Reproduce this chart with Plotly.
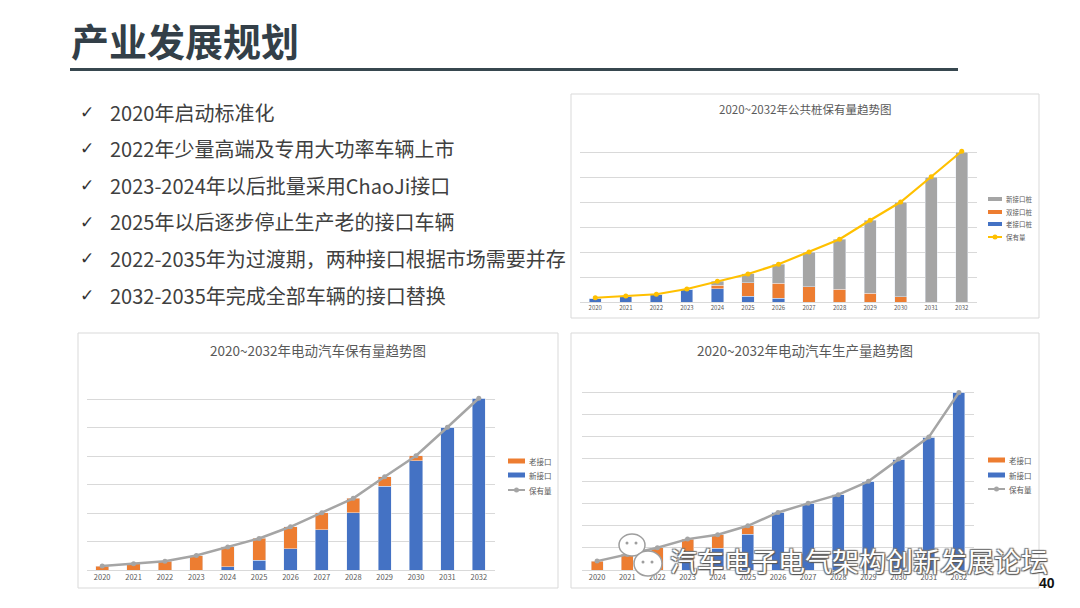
import plotly.graph_objects as go

W, H = 1080, 608
def X(px): return px / W
def Y(py): return 1 - py / H

years = [str(y) for y in range(2020, 2033)]

# Chart 1: public chargers stock
pile_old = [0.16, 0.24, 0.31, 0.52, 0.53, 0.23, 0.16, 0, 0, 0, 0, 0, 0]
pile_dual = [0, 0, 0, 0, 0.14, 0.55, 0.60, 0.61, 0.52, 0.35, 0.21, 0, 0]
pile_new = [0, 0, 0, 0, 0.16, 0.35, 0.75, 1.39, 1.99, 2.92, 3.79, 5.00, 6.00]
pile_total = [0.17, 0.24, 0.31, 0.52, 0.83, 1.12, 1.51, 2.00, 2.51, 3.27, 4.00, 5.01, 6.03]
pile_names = ["新接口桩", "双接口桩", "老接口桩", "保有量"]

# Chart 2: EV stock
stock_new = [0, 0, 0, 0, 0.12, 0.34, 0.75, 1.41, 2.01, 2.94, 3.84, 5.02, 6.04]
stock_old = [0.14, 0.22, 0.31, 0.51, 0.69, 0.77, 0.77, 0.60, 0.51, 0.34, 0.18, 0, 0]
stock_total = [0.14, 0.22, 0.31, 0.51, 0.81, 1.11, 1.52, 2.01, 2.52, 3.28, 4.02, 5.02, 6.04]

# Chart 3: EV production
prod_new = [0, 0, 0, 0.45, 0.97, 1.60, 2.59, 3.00, 3.39, 3.99, 4.99, 5.98, 7.99]
prod_old = [0.40, 0.70, 1.00, 0.94, 0.62, 0.39, 0, 0, 0, 0, 0, 0, 0]
prod_total = [0.40, 0.70, 1.00, 1.39, 1.59, 1.99, 2.59, 3.00, 3.39, 3.99, 4.99, 5.98, 7.99]
ev_names = ["老接口", "新接口", "保有量"]

titles = ["2020~2032年公共桩保有量趋势图", "2020~2032年电动汽车保有量趋势图", "2020~2032年电动汽车生产量趋势图"]
bullets = [
    "2020年启动标准化",
    "2022年少量高端及专用大功率车辆上市",
    "2023-2024年以后批量采用ChaoJi接口",
    "2025年以后逐步停止生产老的接口车辆",
    "2022-2035年为过渡期，两种接口根据市场需要并存",
    "2032-2035年完成全部车辆的接口替换",
]

BLUE, ORANGE, GRAY, YELLOW, LGRAY = "#4472C4", "#ED7D31", "#A5A5A5", "#FFC000", "#A5A5A5"
FONT = "Noto Sans CJK SC"
TXT = "#595959"

fig = go.Figure()
BW = 0.4
# chart 1
fig.add_trace(go.Bar(x=years, y=pile_old, name=pile_names[2], marker_color=BLUE, width=BW, xaxis="x", yaxis="y"))
fig.add_trace(go.Bar(x=years, y=pile_dual, name=pile_names[1], marker_color=ORANGE, width=BW, xaxis="x", yaxis="y"))
fig.add_trace(go.Bar(x=years, y=pile_new, name=pile_names[0], marker_color=GRAY, width=BW, xaxis="x", yaxis="y"))
fig.add_trace(go.Scatter(x=years, y=pile_total, name=pile_names[3], mode="lines+markers",
                         line=dict(color=YELLOW, width=2.2), marker=dict(size=5, color=YELLOW), xaxis="x", yaxis="y"))
# chart 2
fig.add_trace(go.Bar(x=years, y=stock_new, name=ev_names[1], marker_color=BLUE, width=0.42, xaxis="x2", yaxis="y2"))
fig.add_trace(go.Bar(x=years, y=stock_old, name=ev_names[0], marker_color=ORANGE, width=0.42, xaxis="x2", yaxis="y2"))
fig.add_trace(go.Scatter(x=years, y=stock_total, name=ev_names[2], mode="lines+markers",
                         line=dict(color=LGRAY, width=2.5), marker=dict(size=5, color=LGRAY), xaxis="x2", yaxis="y2"))
# chart 3
fig.add_trace(go.Bar(x=years, y=prod_new, name=ev_names[1], marker_color=BLUE, width=BW, xaxis="x3", yaxis="y3"))
fig.add_trace(go.Bar(x=years, y=prod_old, name=ev_names[0], marker_color=ORANGE, width=BW, xaxis="x3", yaxis="y3"))
fig.add_trace(go.Scatter(x=years, y=prod_total, name=ev_names[2], mode="lines+markers",
                         line=dict(color=LGRAY, width=2.5), marker=dict(size=5, color=LGRAY), xaxis="x3", yaxis="y3"))

def xax(x0, x1, anchor, fs):
    return dict(domain=[X(x0), X(x1)], anchor=anchor, type="category", range=[-0.5, 12.5],
                showgrid=False, showline=True, linecolor="#D9D9D9", linewidth=1, ticks="",
                tickfont=dict(family=FONT, size=fs, color=TXT), fixedrange=True)

def yax(ybase, ytop, anchor, top):
    return dict(domain=[Y(ybase), Y(ytop)], anchor=anchor, range=[0, top], dtick=1,
                showticklabels=False, showgrid=True, gridcolor="#D9D9D9", gridwidth=1,
                zeroline=False, showline=False, ticks="", fixedrange=True)

shapes = []
annotations = []

# frames
for (x0, y0, x1, y1) in [(571, 94, 1039, 318), (78, 333, 558, 588), (571, 333, 1039, 588)]:
    shapes.append(dict(type="rect", xref="paper", yref="paper", x0=X(x0), x1=X(x1), y0=Y(y1), y1=Y(y0),
                       line=dict(color="#D9D9D9", width=1), fillcolor="white", layer="below"))

# slide title and rule
annotations.append(dict(text="<b>产业发展规划</b>", x=X(69), y=Y(40), xref="paper", yref="paper",
                        xanchor="left", yanchor="middle", showarrow=False,
                        font=dict(family=FONT, size=38, color="#333F48")))
shapes.append(dict(type="line", xref="paper", yref="paper", x0=X(70), x1=X(958), y0=Y(69.5), y1=Y(69.5),
                   line=dict(color="#37474F", width=3)))

# bullets
rows = [112, 148, 185, 222, 258, 295]
for r, t in zip(rows, bullets):
    annotations.append(dict(text="<b>✓</b>", x=X(87), y=Y(r), xref="paper", yref="paper", xanchor="center",
                            yanchor="middle", showarrow=False, font=dict(family="DejaVu Sans", size=17, color="#333333")))
    annotations.append(dict(text=t, x=X(108), y=Y(r), xref="paper", yref="paper", xanchor="left",
                            yanchor="middle", showarrow=False, font=dict(family=FONT, size=20, color="#404040")))

# chart titles
for (cx, cy, fs), t in zip([(805, 109, 11.5), (318, 350, 13.5), (805, 350, 13.5)], titles):
    annotations.append(dict(text=t, x=X(cx), y=Y(cy), xref="paper", yref="paper", xanchor="center",
                            yanchor="middle", showarrow=False, font=dict(family=FONT, size=fs, color=TXT)))

# manual legends
def legend(entries, sx0, sx1, tx, fs, sh):
    for (name, color, kind), ry in entries:
        if kind == "bar":
            shapes.append(dict(type="rect", xref="paper", yref="paper", x0=X(sx0), x1=X(sx1),
                               y0=Y(ry + sh / 2), y1=Y(ry - sh / 2), fillcolor=color, line=dict(width=0)))
        else:
            shapes.append(dict(type="line", xref="paper", yref="paper", x0=X(sx0), x1=X(sx1),
                               y0=Y(ry), y1=Y(ry), line=dict(color=color, width=2)))
            cx = (sx0 + sx1) / 2
            shapes.append(dict(type="circle", xref="paper", yref="paper", x0=X(cx - 2.5), x1=X(cx + 2.5),
                               y0=Y(ry + 2.5), y1=Y(ry - 2.5), fillcolor=color, line=dict(width=0)))
        annotations.append(dict(text=name, x=X(tx), y=Y(ry), xref="paper", yref="paper", xanchor="left",
                                yanchor="middle", showarrow=False, font=dict(family=FONT, size=fs, color=TXT)))

legend([((pile_names[0], GRAY, "bar"), 199), ((pile_names[1], ORANGE, "bar"), 212),
        ((pile_names[2], BLUE, "bar"), 224), ((pile_names[3], YELLOW, "line"), 237)],
       988, 1002, 1004, 6.5, 4)
legend([((ev_names[0], ORANGE, "bar"), 461), ((ev_names[1], BLUE, "bar"), 475), ((ev_names[2], LGRAY, "line"), 490)],
       508, 525, 527, 7.5, 5)
legend([((ev_names[0], ORANGE, "bar"), 460), ((ev_names[1], BLUE, "bar"), 475), ((ev_names[2], LGRAY, "line"), 489)],
       988, 1005, 1007, 7.5, 5)

# watermark icon
shapes.append(dict(type="circle", xref="paper", yref="paper", x0=X(619), x1=X(645), y0=Y(556), y1=Y(534),
                   fillcolor="white", line=dict(color="#9E9E9E", width=1.5)))
shapes.append(dict(type="circle", xref="paper", yref="paper", x0=X(634), x1=X(662), y0=Y(576), y1=Y(551),
                   fillcolor="white", line=dict(color="#9E9E9E", width=1.5)))
for (dx, dy) in [(627, 543), (636, 543), (643, 562), (652, 562)]:
    shapes.append(dict(type="circle", xref="paper", yref="paper", x0=X(dx - 1.5), x1=X(dx + 1.5),
                       y0=Y(dy + 1.5), y1=Y(dy - 1.5), fillcolor="#9E9E9E", line=dict(width=0)))
annotations.append(dict(text="汽车电子电气架构创新发展论坛", x=X(668), y=Y(560), xref="paper", yref="paper",
                        xanchor="left", yanchor="middle", showarrow=False,
                        font=dict(family=FONT, size=27, color="white",
                                  shadow="1px 1px 1px #555, -1px -1px 1px #777, 1px -1px 1px #777, -1px 1px 1px #777")))
annotations.append(dict(text="<b>40</b>", x=X(1047), y=Y(583), xref="paper", yref="paper",
                        xanchor="center", yanchor="middle", showarrow=False,
                        font=dict(family="Liberation Sans", size=14, color="#111111")))

fig.update_layout(
    width=W, height=H, margin=dict(l=0, r=0, t=0, b=0),
    paper_bgcolor="white", plot_bgcolor="rgba(0,0,0,0)",
    barmode="stack", showlegend=False, hovermode=False,
    xaxis=xax(580, 977, "y", 6), yaxis=yax(302, 127, "x", 7),
    xaxis2=xax(86.5, 494.5, "y2", 7.5), yaxis2=yax(570, 371, "x2", 7),
    xaxis3=xax(582, 974, "y3", 7.5), yaxis3=yax(570, 370, "x3", 9),
    shapes=shapes, annotations=annotations,
)

fig.write_html("out.html", config={"displayModeBar": False},
               post_script="document.body.style.margin='0';document.body.style.overflow='hidden';")
